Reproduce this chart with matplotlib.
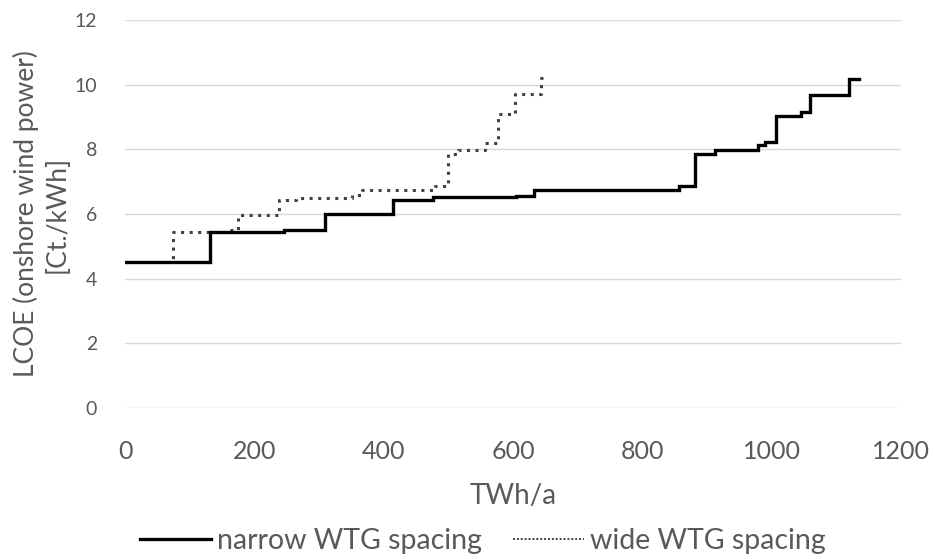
import matplotlib.pyplot as plt
from matplotlib.lines import Line2D

# Cumulative yield (TWh/a) where each LCOE step begins, and the LCOE held from there on
narrow_twh = [0, 131, 246, 310, 414, 477, 605, 633, 856, 882, 912, 979, 990, 1006, 1046, 1059, 1120, 1135]
narrow_lcoe = [4.52, 5.45, 5.5, 6.0, 6.43, 6.52, 6.57, 6.74, 6.87, 7.86, 7.98, 8.13, 8.24, 9.03, 9.16, 9.68, 10.16, 10.16]

wide_twh = [0, 74, 155, 174, 238, 264, 351, 367, 480, 500, 515, 556, 577, 603, 644, 647]
wide_lcoe = [4.52, 5.43, 5.5, 5.97, 6.43, 6.5, 6.6, 6.74, 6.87, 7.85, 7.98, 8.2, 9.08, 9.7, 10.2, 10.2]

x_ticks = [0, 200, 400, 600, 800, 1000, 1200]
y_ticks = [0, 2, 4, 6, 8, 10, 12]

font = ['Lato', 'DejaVu Sans']
text_grey = '#595959'
grid_grey = '#d9d9d9'

fig = plt.figure(figsize=(9.34, 5.59), dpi=100)
ax = fig.add_axes([125 / 934, 1 - 408 / 559, 776 / 934, 388 / 559])

ax.step(narrow_twh, narrow_lcoe, where='post', color='black', linewidth=2.4,
        solid_joinstyle='miter', zorder=3)
ax.step(wide_twh, wide_lcoe, where='post', color='#404040', linewidth=2.2,
        linestyle=(0, (1, 1.8)), zorder=2)

ax.set_xlim(0, 1200)
ax.set_ylim(0, 12)
ax.set_xticks(x_ticks)
ax.set_yticks(y_ticks)
ax.set_xticklabels([str(t) for t in x_ticks], family=font, fontsize=18, color=text_grey)
ax.set_yticklabels([str(t) for t in y_ticks], family=font, fontsize=14, color=text_grey)
ax.tick_params(axis='both', length=0)
ax.tick_params(axis='x', pad=23)
ax.tick_params(axis='y', pad=20)

ax.grid(True, axis='y', color=grid_grey, linewidth=1)
ax.set_axisbelow(True)
for spine in ax.spines.values():
    spine.set_visible(False)

ax.set_xlabel('TWh/a', family=font, fontsize=20, color=text_grey, va='center')
ax.xaxis.set_label_coords((513 - 125) / 776, -(496 - 408) / 388)
ax.set_ylabel('LCOE (onshore wind power)\n[Ct./kWh]', family=font, fontsize=19,
              color=text_grey, linespacing=1.3, va='center')
ax.yaxis.set_label_coords(-(125 - 41) / 776, 0.5)

handles = [Line2D([], [], color='black', linewidth=2.4),
           Line2D([], [], color='#404040', linewidth=1.4, linestyle=(0, (1, 1)))]
fig.legend(handles, ['narrow WTG spacing', 'wide WTG spacing'],
           loc='center', bbox_to_anchor=(483 / 934, 1 - 541 / 559), ncol=2,
           frameon=False, handlelength=2.5, handletextpad=0.2, columnspacing=1.1,
           borderpad=0, prop={'family': font, 'size': 20.5}, labelcolor=text_grey)

fig.savefig('out.png', dpi=100)
